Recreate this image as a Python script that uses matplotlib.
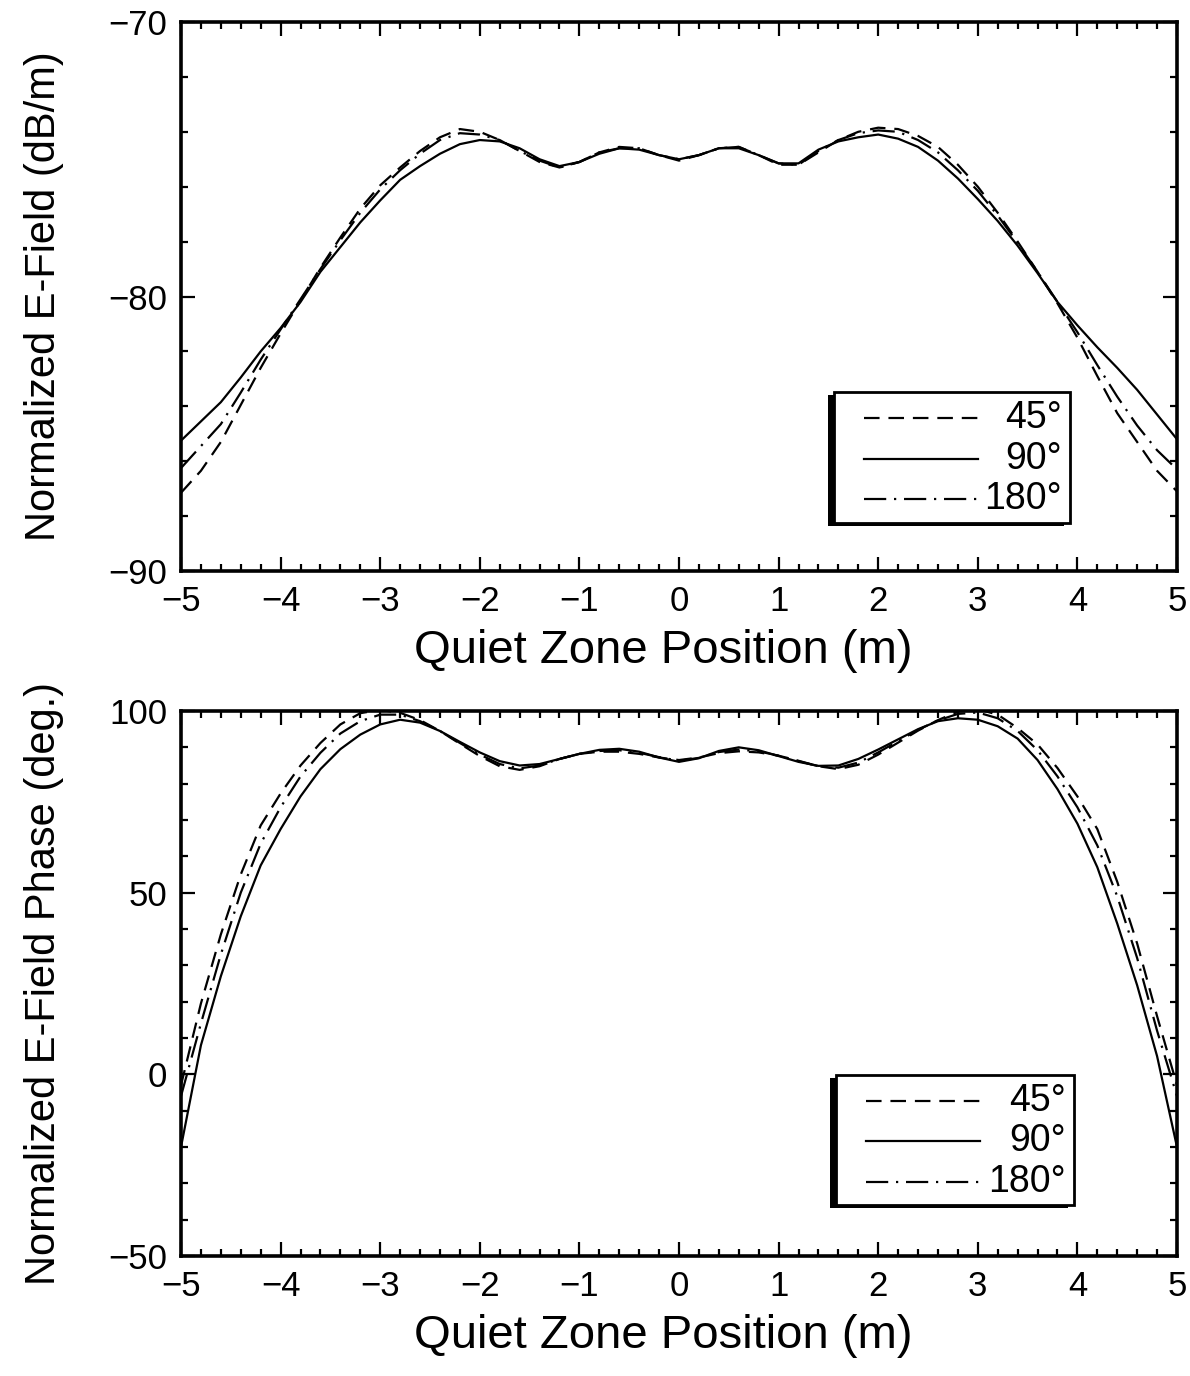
import matplotlib
matplotlib.use("Agg")
import matplotlib.pyplot as plt
from matplotlib import font_manager
from matplotlib.lines import Line2D
from matplotlib.patches import Rectangle
import numpy as np

# ---------------- data ----------------
position = np.round(np.arange(-5.0, 5.0001, 0.2), 2)

angle_labels = ["45°", "90°", "180°"]

mag_45 = [-87.15, -86.35, -85.3, -83.95, -82.6, -81.35, -80.15, -78.95, -77.85, -76.8,
          -75.95, -75.3, -74.7, -74.2, -73.9, -74.0, -74.3, -74.7, -75.1, -75.3,
          -75.1, -74.75, -74.55, -74.6, -74.85, -75.05, -74.85, -74.6, -74.55, -74.85,
          -75.2, -75.2, -74.75, -74.3, -74.0, -73.85, -73.9, -74.15, -74.55, -75.2,
          -76.0, -76.95, -78.0, -79.1, -80.25, -81.5, -82.9, -84.25, -85.3, -86.35, -87.1]
mag_90 = [-85.25, -84.55, -83.85, -82.95, -82.0, -81.15, -80.2, -79.1, -78.2, -77.3,
          -76.5, -75.75, -75.25, -74.8, -74.45, -74.3, -74.35, -74.6, -75.0, -75.25,
          -75.1, -74.8, -74.6, -74.65, -74.85, -75.0, -74.85, -74.6, -74.6, -74.85,
          -75.15, -75.15, -74.65, -74.35, -74.2, -74.1, -74.25, -74.55, -75.05, -75.7,
          -76.45, -77.25, -78.15, -79.15, -80.2, -81.05, -81.85, -82.6, -83.4, -84.3, -85.2]
mag_180 = [-86.25, -85.45, -84.65, -83.5, -82.3, -81.2, -80.1, -79.0, -77.95, -76.95,
           -76.1, -75.4, -74.8, -74.3, -74.05, -74.1, -74.3, -74.7, -75.05, -75.3,
           -75.1, -74.75, -74.6, -74.6, -74.85, -75.0, -74.85, -74.6, -74.55, -74.85,
           -75.15, -75.2, -74.7, -74.3, -74.05, -73.95, -74.0, -74.3, -74.75, -75.4,
           -76.15, -77.05, -78.05, -79.1, -80.2, -81.3, -82.5, -83.65, -84.7, -85.6, -86.3]

ph_45 = [-3, 19.5, 38.5, 55, 68.5, 77.3, 85, 91.2, 96.3, 99.4,
         100.3, 99.5, 97.5, 94.5, 91, 87.6, 84.8, 83.8, 84.8, 86.8,
         88.2, 88.8, 88.8, 88.2, 87.2, 86.5, 87.2, 88.4, 88.9, 88.6,
         87.7, 86.3, 84.8, 84.0, 85.2, 88.0, 91.3, 94.6, 97.5, 99.8,
         100.5, 99.0, 95.3, 90.8, 84.3, 76.5, 67.5, 53, 36, 16, -3]
ph_90 = [-20, 8, 27, 43.5, 57.5, 67.5, 76.5, 84, 89.5, 93.5,
         96.3, 97.6, 96.8, 94.5, 91.5, 88.6, 86.2, 85.0, 85.4, 86.8,
         88.2, 89.3, 89.6, 88.8, 87.2, 86.0, 87.0, 89.0, 90.0, 89.2,
         87.6, 86.0, 84.9, 85.0, 86.8, 89.4, 92.2, 95.0, 97.2, 98.0,
         97.6, 95.8, 92.4, 86.5, 78.5, 69.0, 57.0, 41.5, 24.5, 5, -20]
ph_180 = [-6, 14, 33, 50, 63.5, 73.5, 82, 88.5, 93.8, 97.2,
          99.0, 99.0, 97.2, 94.5, 91.2, 88.0, 85.4, 84.2, 85.0, 86.8,
          88.2, 89.0, 89.2, 88.5, 87.3, 86.3, 87.1, 88.7, 89.4, 88.9,
          87.7, 86.2, 84.8, 84.4, 85.8, 88.6, 91.7, 94.8, 97.4, 99.2,
          99.6, 98.0, 94.5, 89.2, 82.0, 73.5, 63.0, 49.0, 32.0, 12.0, -6]

mag_ticks = [-90, -80, -70]
ph_ticks = [-50, 0, 50, 100]
x_ticks = [-5, -4, -3, -2, -1, 0, 1, 2, 3, 4, 5]

# ---------------- style ----------------
names = {f.name for f in font_manager.fontManager.ttflist}
fam = "Liberation Sans Narrow" if "Liberation Sans Narrow" in names else "Liberation Sans"
plt.rcParams['font.family'] = [fam, 'DejaVu Sans']

LW = 1.6
styles = [
    dict(linestyle=(0, (7, 4)), color='black', lw=LW),
    dict(linestyle='-', color='black', lw=LW),
    dict(linestyle=(0, (10, 3.5, 1, 3.5)), color='black', lw=LW),
]

fig = plt.figure(figsize=(11.9, 13.76), dpi=100)
ax1 = fig.add_axes([181/1190, 1-571/1376, (1177-181)/1190, (571-22)/1376])
ax2 = fig.add_axes([181/1190, 1-1256/1376, (1177-181)/1190, (1256-711)/1376])


def style_axes(ax, yticks, yminor, ylabel):
    ax.set_xlim(-5, 5)
    ax.set_xticks(x_ticks)
    ax.set_xticks(np.arange(-5, 5.001, 0.2), minor=True)
    ax.set_ylim(yticks[0], yticks[-1])
    ax.set_yticks(yticks)
    ax.set_yticks(np.arange(yticks[0], yticks[-1] + 0.001, yminor), minor=True)
    ax.tick_params(which='both', direction='in', top=True, right=True, width=1.6,
                   labelsize=25, pad=10)
    ax.tick_params(which='major', length=10)
    ax.tick_params(which='minor', length=5)
    for s in ax.spines.values():
        s.set_linewidth(2.6)
    ax.set_xlabel("Quiet Zone Position (m)", fontsize=34, labelpad=8)
    ax.xaxis.label.set_x(0.484)
    ax.set_ylabel(ylabel, fontsize=30, labelpad=32)


def add_legend(ax, box):
    x0, y0, w, h = box
    ax.add_patch(Rectangle((x0 - 0.006, y0 - 0.006), w, h, transform=ax.transAxes,
                           facecolor='black', edgecolor='black', lw=0, zorder=4))
    ax.add_patch(Rectangle((x0, y0), w, h, transform=ax.transAxes,
                           facecolor='white', edgecolor='black', lw=2.0, zorder=5))
    for i, (lab, st) in enumerate(zip(angle_labels, styles)):
        yy = y0 + h * (0.80 - 0.31 * i)
        ax.add_line(Line2D([x0 + 0.03, x0 + 0.145], [yy, yy], transform=ax.transAxes,
                           zorder=6, **st))
        ax.text(x0 + w - 0.008, yy, lab, transform=ax.transAxes, ha='right',
                va='center', fontsize=27, zorder=6)


for vals, st in zip([mag_45, mag_90, mag_180], styles):
    ax1.plot(position, vals, **st)
style_axes(ax1, mag_ticks, 2, "Normalized E-Field (dB/m)")
add_legend(ax1, ((834-181)/996, (571-523)/549, (1070-834)/996, (523-392)/549))

for vals, st in zip([ph_45, ph_90, ph_180], styles):
    ax2.plot(position, vals, **st)
style_axes(ax2, ph_ticks, 10, "Normalized E-Field Phase (deg.)")
add_legend(ax2, ((836-181)/996, (1256-1205)/545, (1074-836)/996, (1205-1075)/545))

fig.savefig("out.png", dpi=100)
